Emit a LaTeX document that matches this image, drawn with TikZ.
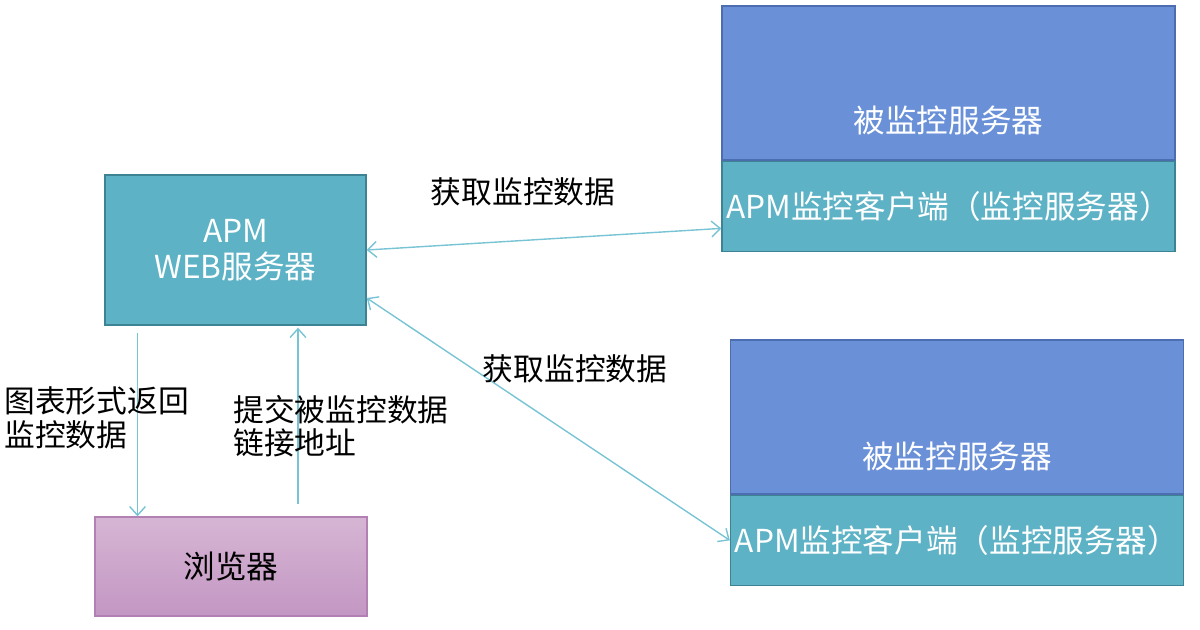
\documentclass[tikz,border=0pt]{standalone}
\usepackage{fontspec}
\setmainfont{Noto Sans CJK SC}
\usetikzlibrary{positioning,arrows.meta}
\definecolor{monblue}{RGB}{106,145,216}
\definecolor{monblueline}{RGB}{76,110,176}
\definecolor{apmteal}{RGB}{93,178,197}
\definecolor{apmtealline}{RGB}{62,131,148}
\definecolor{linkteal}{RGB}{120,196,212}
\definecolor{browsertop}{RGB}{214,181,212}
\definecolor{browserbottom}{RGB}{195,151,195}
\definecolor{browserline}{RGB}{178,128,178}

\begin{document}
\begin{tikzpicture}[x=0.02cm,y=-0.02cm,
    box/.style={draw, line width=0.8pt, inner sep=0pt, font=\fontsize{18}{20.5}\selectfont},
    monbox/.style={box, fill=monblue, draw=monblueline, minimum width=9.06cm, minimum height=3.08cm},
    clientbox/.style={box, fill=apmteal, draw=apmtealline, text=white, minimum width=9.06cm, minimum height=1.8cm},
    link/.style={draw=linkteal, line width=0.8pt, {Straight Barb[length=5pt,width=9pt]}-{Straight Barb[length=5pt,width=9pt]}},
    uplink/.style={draw=linkteal, line width=0.8pt, -{Straight Barb[length=5pt,width=9pt]}},
    lbl/.style={font=\fontsize{17.5}{19}\selectfont, inner sep=0pt}]
    \useasboundingbox (0,0) rectangle (1200,629);
    % APM web server and browser
    \node[box, fill=apmteal, draw=apmtealline, text=white, align=center,
          minimum width=5.22cm, minimum height=3cm] (web) at (235.5,250) {APM\\WEB服务器};
    \node[box, top color=browsertop, bottom color=browserbottom, draw=browserline,
          minimum width=5.44cm, minimum height=1.98cm] (browser) at (231,566.5) {浏览器};
    % Monitored servers
    \node[monbox] (mon1) at (948.5,83) {};
    \node[clientbox, below=0pt of mon1] (client1) {APM监控客户端（监控服务器）};
    \node[box, draw=none, text=white] (mon1text) at ([yshift=-0.74cm]mon1.center) {被监控服务器};
    \node[monbox] (mon2) at (957,417) {};
    \node[clientbox, below=0pt of mon2] (client2) {APM监控客户端（监控服务器）};
    \node[box, draw=none, text=white] (mon2text) at ([yshift=-0.78cm]mon2.center) {被监控服务器};
    % Connectors
    \draw[link] ([yshift=-0.44cm]client1.west) -- (web.east);
    \draw[link] ([yshift=-0.96cm]web.east) -- (client2.west);
    \draw[uplink] ([xshift=-1.96cm,yshift=-0.14cm]web.south) -- ([xshift=-1.96cm]web.south |- browser.north);
    \draw[uplink] ([xshift=1.25cm,yshift=0.24cm]web.south |- browser.north) -- ([xshift=1.25cm,yshift=-0.04cm]web.south);
    % Labels
    \node[lbl] (fetch1) at (523,192) {获取监控数据};
    \node[lbl] (fetch2) at (575,369) {获取监控数据};
    \node[lbl, anchor=west, align=left] (chart) at (4,418) {图表形式返回\\监控数据};
    \node[lbl, anchor=west, align=left] (submit) at (233,426) {提交被监控数据\\链接地址};
\end{tikzpicture}
\end{document}
